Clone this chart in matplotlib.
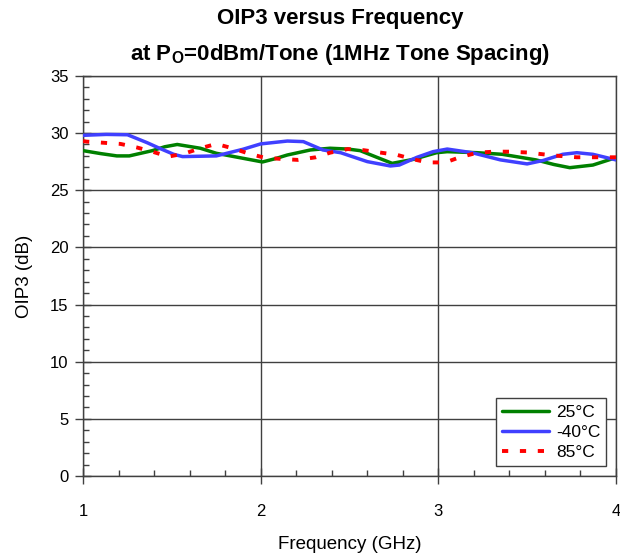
import matplotlib
matplotlib.use("Agg")
import matplotlib.pyplot as plt
from matplotlib.ticker import MultipleLocator

freq_25 = [1.0, 1.1, 1.19, 1.26, 1.39, 1.46, 1.53, 1.66, 1.75, 1.87, 2.01, 2.08, 2.15, 2.28, 2.39, 2.49, 2.56, 2.65, 2.74, 2.86, 2.99, 3.05, 3.22, 3.36, 3.55, 3.65, 3.74, 3.87, 4.0]
oip3_25 = [28.46, 28.2, 28.0, 28.0, 28.46, 28.8, 29.0, 28.67, 28.23, 27.88, 27.47, 27.75, 28.08, 28.52, 28.67, 28.6, 28.46, 27.9, 27.35, 27.7, 28.28, 28.37, 28.28, 28.14, 27.65, 27.25, 26.97, 27.2, 27.85]

freq_m40 = [1.0, 1.13, 1.25, 1.36, 1.43, 1.51, 1.56, 1.75, 1.9, 2.0, 2.15, 2.24, 2.35, 2.45, 2.6, 2.73, 2.78, 2.88, 2.97, 3.05, 3.19, 3.35, 3.5, 3.59, 3.7, 3.78, 3.87, 4.0]
oip3_m40 = [29.8, 29.88, 29.85, 29.16, 28.67, 28.14, 27.94, 28.0, 28.58, 29.05, 29.3, 29.25, 28.52, 28.28, 27.5, 27.12, 27.2, 27.88, 28.37, 28.6, 28.28, 27.65, 27.3, 27.6, 28.14, 28.28, 28.14, 27.65]

freq_85 = [1.0, 1.02, 1.21, 1.30, 1.39, 1.48, 1.57, 1.66, 1.75, 1.84, 1.94, 2.02, 2.12, 2.21, 2.31, 2.39, 2.49, 2.58, 2.67, 2.77, 2.86, 2.94, 3.04, 3.12, 3.22, 3.31, 3.40, 3.50, 3.59, 3.68, 3.78, 3.87, 3.97, 4.0]
oip3_85 = [29.3, 29.25, 29.05, 28.75, 28.37, 27.94, 28.2, 28.67, 29.05, 28.67, 28.17, 27.85, 27.73, 27.65, 27.88, 28.28, 28.6, 28.5, 28.3, 28.08, 27.7, 27.43, 27.43, 27.88, 28.28, 28.37, 28.37, 28.3, 28.14, 28.0, 27.88, 27.88, 27.88, 27.88]

x_ticks = [1, 2, 3, 4]
y_ticks = [0, 5, 10, 15, 20, 25, 30, 35]

plt.rcParams['font.family'] = ['Liberation Sans', 'DejaVu Sans']

fig = plt.figure(figsize=(6.2, 5.58), dpi=100)
ax = fig.add_axes([0.134, 0.147, 0.8595, 0.717])

ax.plot(freq_25, oip3_25, color='#008000', lw=2.5, label='25°C', zorder=3,
        solid_joinstyle='round', solid_capstyle='round')
ax.plot(freq_m40, oip3_m40, color='#4040ff', lw=2.5, label='-40°C', zorder=4,
        solid_joinstyle='round', solid_capstyle='round')
ax.plot(freq_85, oip3_85, color='#ff0000', lw=2.8, ls=(0, (1.6, 3.0)), label='85°C', zorder=5)

ax.set_xlim(1, 4)
ax.set_ylim(0, 35)
ax.set_xticks(x_ticks)
ax.set_yticks(y_ticks)
ax.xaxis.set_minor_locator(MultipleLocator(0.2))
ax.yaxis.set_minor_locator(MultipleLocator(1))
ax.tick_params(which='major', direction='inout', length=11, width=1.0, labelsize=12, colors='#404040', labelcolor='black')
ax.tick_params(which='minor', direction='in', length=4, width=1.0, colors='#404040')
ax.tick_params(axis='x', which='major', pad=15)
ax.tick_params(axis='y', which='major', pad=5)
ax.grid(True, which='major', color='#404040', lw=1.0)
for s in ax.spines.values():
    s.set_color('#404040')
    s.set_linewidth(1.0)

ax.set_xlabel('Frequency (GHz)', fontsize=13.5, labelpad=12)
ax.set_ylabel('OIP3 (dB)', fontsize=13.5, labelpad=12)

fig.text(0.548, 0.967, 'OIP3 versus Frequency', ha='center', va='center', fontsize=16, fontweight='bold')
fig.text(0.548, 0.902, r'at P$_\mathregular{O}$=0dBm/Tone (1MHz Tone Spacing)', ha='center', va='center', fontsize=16, fontweight='bold')

leg = ax.legend(loc='lower right', fontsize=12.5, frameon=True, fancybox=False, edgecolor='#404040',
                handlelength=2.7, borderpad=0.35, labelspacing=0.3, handletextpad=0.4,
                bbox_to_anchor=(1.0, 0.0), borderaxespad=0.55, framealpha=1)
leg.get_frame().set_linewidth(1.0)

fig.savefig('out.png', dpi=100)
